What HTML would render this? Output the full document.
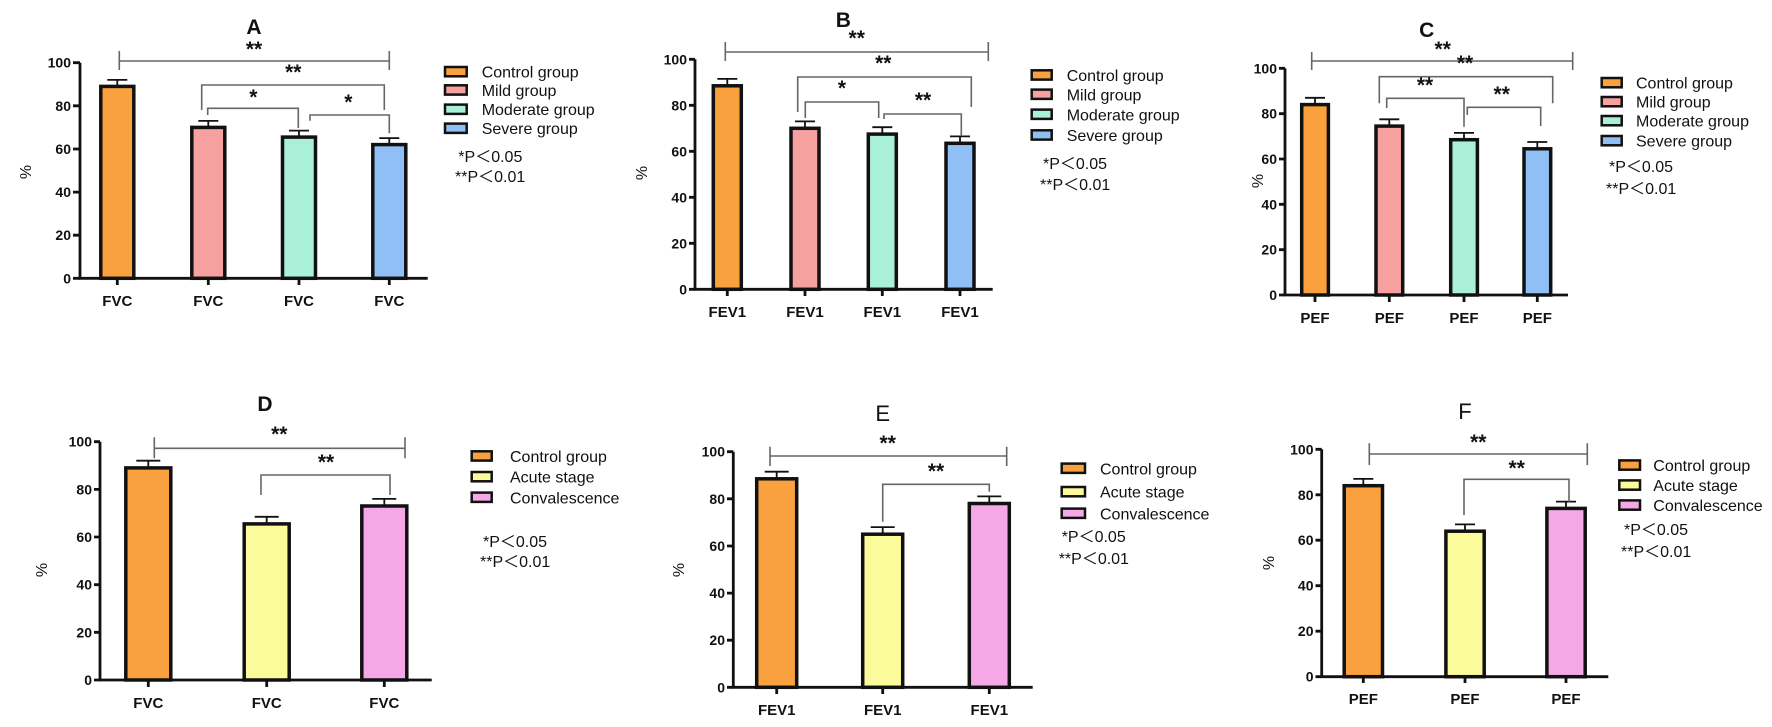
<!DOCTYPE html>
<html><head><meta charset="utf-8"><style>
html,body{margin:0;padding:0;background:#fff}
svg{display:block}
text{font-family:"Liberation Sans",Arial,"Noto Sans CJK SC",sans-serif;fill:#111}
.t{font-size:14px;font-weight:bold;text-anchor:end}
.x{font-size:15px;font-weight:bold;text-anchor:middle}
.ti{font-size:21px;font-weight:bold;text-anchor:middle}
.tn{font-size:22px;text-anchor:middle}
.lg{font-size:16px}
.st{font-size:21px;font-weight:bold;text-anchor:middle}
.pc{font-size:16px}
.ax{stroke:#111;stroke-width:2.8;fill:none}
.br{stroke:#666;stroke-width:1.6;fill:none}
.bar{stroke:#111;stroke-width:3.5}
.eb{stroke:#111;stroke-width:1.8;fill:none}
.lb{stroke:#111;stroke-width:2.5}
</style></head><body>
<svg width="1772" height="727" viewBox="0 0 1772 727" xmlns="http://www.w3.org/2000/svg">
<!-- A -->
<text class="ti" x="254" y="34">A</text>
<path class="ax" d="M80,62.7V278.3H427.7"/>
<path class="ax" d="M73,62.7H80M73,105.8H80M73,149H80M73,192.1H80M73,235.2H80M73,278.3H80M117.3,278.3V285M208.3,278.3V285M299,278.3V285M389.3,278.3V285"/>
<text class="t" x="71" y="67.7">100</text><text class="t" x="71" y="110.8">80</text><text class="t" x="71" y="154">60</text><text class="t" x="71" y="197.1">40</text><text class="t" x="71" y="240.2">20</text><text class="t" x="71" y="283.3">0</text>
<text class="x" x="117.3" y="306">FVC</text><text class="x" x="208.3" y="306">FVC</text><text class="x" x="299" y="306">FVC</text><text class="x" x="389.3" y="306">FVC</text>
<text class="pc" transform="translate(31,172) rotate(-90)" text-anchor="middle">%</text>
<path class="eb" d="M117.3,86.4V79.9M107.3,79.9H127.3M208.3,127.4V120.9M198.3,120.9H218.3M299,137.1V130.6M289,130.6H309M389.3,144.6V138.1M379.3,138.1H399.3"/>
<rect class="bar" x="100.8" y="86.4" width="33" height="191.9" fill="#f9a03f"/>
<rect class="bar" x="191.8" y="127.4" width="33" height="150.9" fill="#f7a0a0"/>
<rect class="bar" x="282.5" y="137.1" width="33" height="141.2" fill="#aaf0d8"/>
<rect class="bar" x="372.8" y="144.6" width="33" height="133.7" fill="#90bff5"/>
<path class="br" d="M119.3,51V70M119.3,61H389.3M389.3,51V70"/>
<text class="st" x="254" y="56">**</text>
<path class="br" d="M201.7,110V85H384.3V110"/>
<text class="st" x="293.3" y="79">**</text>
<path class="br" d="M207.7,115V108.3H298.3V128"/>
<text class="st" x="253.3" y="104">*</text>
<path class="br" d="M310,120.7V115H389.3V133.3"/>
<text class="st" x="348.3" y="109">*</text>
<rect class="lb" x="445" y="67" width="21.7" height="9.3" fill="#f9a03f"/>
<rect class="lb" x="445" y="85.3" width="21.7" height="9.3" fill="#f7a0a0"/>
<rect class="lb" x="445" y="104.6" width="21.7" height="9.3" fill="#aaf0d8"/>
<rect class="lb" x="445" y="123.6" width="21.7" height="9.3" fill="#90bff5"/>
<text class="lg" x="481.7" y="77.5">Control group</text><text class="lg" x="481.7" y="95.8">Mild group</text><text class="lg" x="481.7" y="115.1">Moderate group</text><text class="lg" x="481.7" y="134.1">Severe group</text>
<text class="lg" x="458.3" y="162">*P＜0.05</text><text class="lg" x="455" y="182">**P＜0.01</text>
<!-- B -->
<text class="ti" x="843.3" y="27">B</text>
<path class="ax" d="M695,59.3V289.3H992.7"/>
<path class="ax" d="M689,59.3H695M689,105.3H695M689,151.3H695M689,197.3H695M689,243.3H695M689,289.3H695M727.3,289.3V296M805,289.3V296M882.3,289.3V296M960,289.3V296"/>
<text class="t" x="687" y="64.3">100</text><text class="t" x="687" y="110.3">80</text><text class="t" x="687" y="156.3">60</text><text class="t" x="687" y="202.3">40</text><text class="t" x="687" y="248.3">20</text><text class="t" x="687" y="294.3">0</text>
<text class="x" x="727.3" y="317">FEV1</text><text class="x" x="805" y="317">FEV1</text><text class="x" x="882.3" y="317">FEV1</text><text class="x" x="960" y="317">FEV1</text>
<text class="pc" transform="translate(647,173) rotate(-90)" text-anchor="middle">%</text>
<path class="eb" d="M727.3,85.8V78.9M717.3,78.9H737.3M805,128.3V121.4M795,121.4H815M882.3,134.1V127.2M872.3,127.2H892.3M960,143.3V136.4M950,136.4H970"/>
<rect class="bar" x="713.3" y="85.8" width="28" height="203.5" fill="#f9a03f"/>
<rect class="bar" x="791" y="128.3" width="28" height="161" fill="#f7a0a0"/>
<rect class="bar" x="868.3" y="134.1" width="28" height="155.2" fill="#aaf0d8"/>
<rect class="bar" x="946" y="143.3" width="28" height="146" fill="#90bff5"/>
<path class="br" d="M725.3,42V61M725.3,52H988.3M988.3,42V61"/>
<text class="st" x="856.7" y="45">**</text>
<path class="br" d="M797.7,112V77H971.3V107"/>
<text class="st" x="883.3" y="70">**</text>
<path class="br" d="M805.3,118V102H878.7V118"/>
<text class="st" x="842" y="95">*</text>
<path class="br" d="M884,119V114H961.3V136"/>
<text class="st" x="923" y="107">**</text>
<rect class="lb" x="1031.7" y="70.3" width="20" height="9.3" fill="#f9a03f"/>
<rect class="lb" x="1031.7" y="89.6" width="20" height="9.3" fill="#f7a0a0"/>
<rect class="lb" x="1031.7" y="109.6" width="20" height="9.3" fill="#aaf0d8"/>
<rect class="lb" x="1031.7" y="130.3" width="20" height="9.3" fill="#90bff5"/>
<text class="lg" x="1066.7" y="81">Control group</text><text class="lg" x="1066.7" y="100.3">Mild group</text><text class="lg" x="1066.7" y="120.3">Moderate group</text><text class="lg" x="1066.7" y="141">Severe group</text>
<text class="lg" x="1043" y="169">*P＜0.05</text><text class="lg" x="1040" y="190">**P＜0.01</text>
<!-- C -->
<text class="ti" x="1426.7" y="37">C</text>
<path class="ax" d="M1285,68.3V295H1568"/>
<path class="ax" d="M1279,68.3H1285M1279,113.7H1285M1279,159H1285M1279,204.3H1285M1279,249.7H1285M1279,295H1285M1315,295V302M1389.3,295V302M1464,295V302M1537.3,295V302"/>
<text class="t" x="1277" y="73.3">100</text><text class="t" x="1277" y="118.7">80</text><text class="t" x="1277" y="164">60</text><text class="t" x="1277" y="209.3">40</text><text class="t" x="1277" y="254.7">20</text><text class="t" x="1277" y="300">0</text>
<text class="x" x="1315" y="323">PEF</text><text class="x" x="1389.3" y="323">PEF</text><text class="x" x="1464" y="323">PEF</text><text class="x" x="1537.3" y="323">PEF</text>
<text class="pc" transform="translate(1263,181) rotate(-90)" text-anchor="middle">%</text>
<path class="eb" d="M1315,104.6V97.8M1305,97.8H1325M1389.3,126.1V119.3M1379.3,119.3H1399.3M1464,139.7V132.9M1454,132.9H1474M1537.3,148.8V142M1527.3,142H1547.3"/>
<rect class="bar" x="1301.7" y="104.6" width="26.7" height="190.4" fill="#f9a03f"/>
<rect class="bar" x="1376" y="126.1" width="26.7" height="168.9" fill="#f7a0a0"/>
<rect class="bar" x="1450.7" y="139.7" width="26.7" height="155.3" fill="#aaf0d8"/>
<rect class="bar" x="1524" y="148.8" width="26.7" height="146.2" fill="#90bff5"/>
<path class="br" d="M1311.7,52V70M1311.7,61H1572.7M1572.7,52V70"/>
<text class="st" x="1442.7" y="56">**</text>
<path class="br" d="M1379.3,103.3V76.7H1552.7V103.3"/>
<text class="st" x="1465" y="70">**</text>
<path class="br" d="M1386.7,108V98.3H1464V126.7"/>
<text class="st" x="1425" y="92">**</text>
<path class="br" d="M1467.3,115V107.3H1540.7V126"/>
<text class="st" x="1501.7" y="101">**</text>
<rect class="lb" x="1601.7" y="78" width="20" height="9.3" fill="#f9a03f"/>
<rect class="lb" x="1601.7" y="97" width="20" height="9.3" fill="#f7a0a0"/>
<rect class="lb" x="1601.7" y="116" width="20" height="9.3" fill="#aaf0d8"/>
<rect class="lb" x="1601.7" y="136" width="20" height="9.3" fill="#90bff5"/>
<text class="lg" x="1636" y="88.5">Control group</text><text class="lg" x="1636" y="107.5">Mild group</text><text class="lg" x="1636" y="126.5">Moderate group</text><text class="lg" x="1636" y="146.5">Severe group</text>
<text class="lg" x="1609" y="172">*P＜0.05</text><text class="lg" x="1606" y="194">**P＜0.01</text>
<!-- D -->
<text class="ti" x="265" y="411">D</text>
<path class="ax" d="M100,441.7V680H431.7"/>
<path class="ax" d="M94,441.7H100M94,489.4H100M94,537H100M94,584.7H100M94,632.3H100M94,680H100M148.3,680V687M266.7,680V687M384.3,680V687"/>
<text class="t" x="92" y="446.7">100</text><text class="t" x="92" y="494.4">80</text><text class="t" x="92" y="542">60</text><text class="t" x="92" y="589.7">40</text><text class="t" x="92" y="637.3">20</text><text class="t" x="92" y="685">0</text>
<text class="x" x="148.3" y="708">FVC</text><text class="x" x="266.7" y="708">FVC</text><text class="x" x="384.3" y="708">FVC</text>
<text class="pc" transform="translate(47,570) rotate(-90)" text-anchor="middle">%</text>
<path class="eb" d="M148.3,467.9V460.7M136.3,460.7H160.3M266.7,523.9V516.8M254.7,516.8H278.7M384.3,506V498.9M372.3,498.9H396.3"/>
<rect class="bar" x="125.8" y="467.9" width="45" height="212.1" fill="#f9a03f"/>
<rect class="bar" x="244.2" y="523.9" width="45" height="156.1" fill="#fbfb9c"/>
<rect class="bar" x="361.8" y="506" width="45" height="174" fill="#f5a8e6"/>
<path class="br" d="M154.3,437.3V458.3M154.3,448.3H405M405,437.3V458.3"/>
<text class="st" x="279.3" y="441">**</text>
<path class="br" d="M261,495V475H390V495"/>
<text class="st" x="326" y="469">**</text>
<rect class="lb" x="471.7" y="451.3" width="20" height="9.3" fill="#f9a03f"/>
<rect class="lb" x="471.7" y="472" width="20" height="9.3" fill="#fbfb9c"/>
<rect class="lb" x="471.7" y="492.6" width="20" height="9.3" fill="#f5a8e6"/>
<text class="lg" x="510" y="462">Control group</text><text class="lg" x="510" y="482.7">Acute stage</text><text class="lg" x="510" y="503.3">Convalescence</text>
<text class="lg" x="483" y="547">*P＜0.05</text><text class="lg" x="480" y="567">**P＜0.01</text>
<!-- E -->
<text class="tn" x="882.7" y="421">E</text>
<path class="ax" d="M733.3,451.7V687.3H1032.7"/>
<path class="ax" d="M727,451.7H733.3M727,498.8H733.3M727,546H733.3M727,593.1H733.3M727,640.2H733.3M727,687.3H733.3M776.7,687.3V694M882.7,687.3V694M989.3,687.3V694"/>
<text class="t" x="725" y="456.7">100</text><text class="t" x="725" y="503.8">80</text><text class="t" x="725" y="551">60</text><text class="t" x="725" y="598.1">40</text><text class="t" x="725" y="645.2">20</text><text class="t" x="725" y="692.3">0</text>
<text class="x" x="776.7" y="715">FEV1</text><text class="x" x="882.7" y="715">FEV1</text><text class="x" x="989.3" y="715">FEV1</text>
<text class="pc" transform="translate(684,570) rotate(-90)" text-anchor="middle">%</text>
<path class="eb" d="M776.7,478.8V471.7M764.7,471.7H788.7M882.7,534.2V527.1M870.7,527.1H894.7M989.3,503.5V496.4M977.3,496.4H1001.3"/>
<rect class="bar" x="756.7" y="478.8" width="40" height="208.5" fill="#f9a03f"/>
<rect class="bar" x="862.7" y="534.2" width="40" height="153.1" fill="#fbfb9c"/>
<rect class="bar" x="969.3" y="503.5" width="40" height="183.8" fill="#f5a8e6"/>
<path class="br" d="M770,446.7V466M770,456H1006.7M1006.7,446.7V466"/>
<text class="st" x="887.7" y="450">**</text>
<path class="br" d="M882.7,521.7V484.3H989.3V491.7"/>
<text class="st" x="936" y="478">**</text>
<rect class="lb" x="1061.7" y="463.6" width="23.3" height="9.3" fill="#f9a03f"/>
<rect class="lb" x="1061.7" y="487" width="23.3" height="9.3" fill="#fbfb9c"/>
<rect class="lb" x="1061.7" y="508.6" width="23.3" height="9.3" fill="#f5a8e6"/>
<text class="lg" x="1100" y="474.3">Control group</text><text class="lg" x="1100" y="497.7">Acute stage</text><text class="lg" x="1100" y="519.3">Convalescence</text>
<text class="lg" x="1061.7" y="542">*P＜0.05</text><text class="lg" x="1058.7" y="564">**P＜0.01</text>
<!-- F -->
<text class="tn" x="1465" y="419">F</text>
<path class="ax" d="M1321.7,449.3V676.7H1608.3"/>
<path class="ax" d="M1315.5,449.3H1321.7M1315.5,494.8H1321.7M1315.5,540.2H1321.7M1315.5,585.7H1321.7M1315.5,631.2H1321.7M1315.5,676.7H1321.7M1363.3,676.7V683M1465,676.7V683M1566,676.7V683"/>
<text class="t" x="1313.5" y="454.3">100</text><text class="t" x="1313.5" y="499.8">80</text><text class="t" x="1313.5" y="545.2">60</text><text class="t" x="1313.5" y="590.7">40</text><text class="t" x="1313.5" y="636.2">20</text><text class="t" x="1313.5" y="681.7">0</text>
<text class="x" x="1363.3" y="704">PEF</text><text class="x" x="1465" y="704">PEF</text><text class="x" x="1566" y="704">PEF</text>
<text class="pc" transform="translate(1274,563) rotate(-90)" text-anchor="middle">%</text>
<path class="eb" d="M1363.3,485.7V478.9M1353.3,478.9H1373.3M1465,531.2V524.4M1455,524.4H1475M1566,508.4V501.6M1556,501.6H1576"/>
<rect class="bar" x="1344.2" y="485.7" width="38.3" height="191" fill="#f9a03f"/>
<rect class="bar" x="1445.9" y="531.2" width="38.3" height="145.5" fill="#fbfb9c"/>
<rect class="bar" x="1546.9" y="508.4" width="38.3" height="168.3" fill="#f5a8e6"/>
<path class="br" d="M1369.3,443.3V465M1369.3,454H1587.3M1587.3,443.3V465"/>
<text class="st" x="1478.3" y="449">**</text>
<path class="br" d="M1464,515V479.3H1569V501.7"/>
<text class="st" x="1516.7" y="475">**</text>
<rect class="lb" x="1619.3" y="460.4" width="20.7" height="9.3" fill="#f9a03f"/>
<rect class="lb" x="1619.3" y="480.4" width="20.7" height="9.3" fill="#fbfb9c"/>
<rect class="lb" x="1619.3" y="500.4" width="20.7" height="9.3" fill="#f5a8e6"/>
<text class="lg" x="1653.3" y="471">Control group</text><text class="lg" x="1653.3" y="491">Acute stage</text><text class="lg" x="1653.3" y="511">Convalescence</text>
<text class="lg" x="1624" y="535">*P＜0.05</text><text class="lg" x="1621" y="557">**P＜0.01</text>
</svg>
</body></html>
